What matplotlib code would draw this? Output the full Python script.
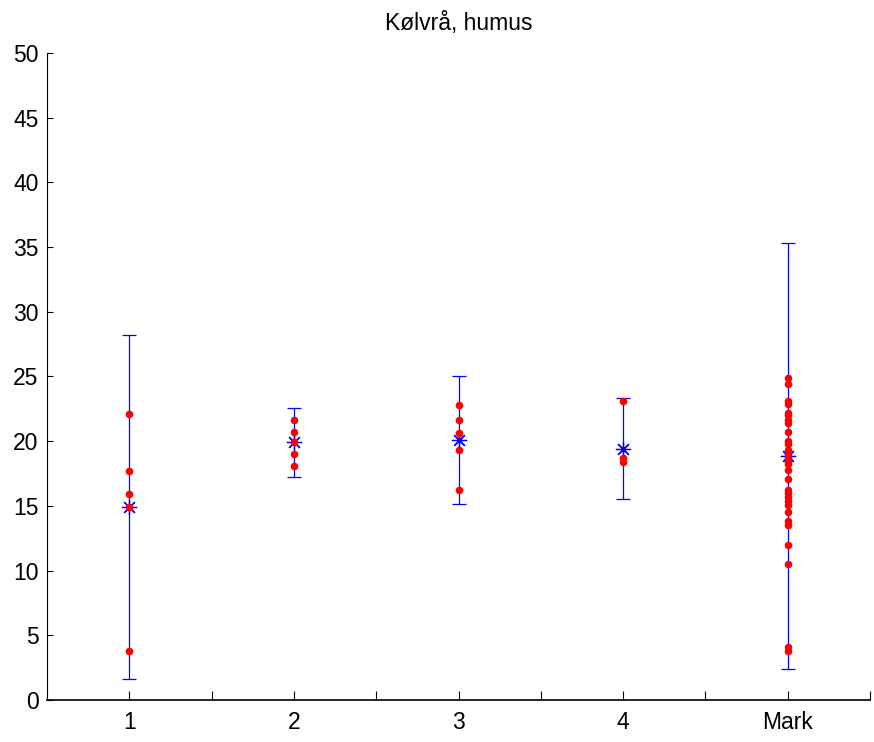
import matplotlib.pyplot as plt

plt.rcParams['font.family'] = ['Liberation Sans', 'DejaVu Sans']

# groups and summary values
groups = ['1', '2', '3', '4', 'Mark']
means = [14.9, 19.9, 20.1, 19.4, 18.85]
errs = [13.3, 2.7, 4.95, 3.9, 16.45]

# individual measurements per group
s1 = [22.1, 17.7, 15.9, 14.9, 3.8]
s2 = [21.6, 20.7, 19.9, 19.0, 18.1]
s3 = [22.8, 21.6, 20.6, 19.3, 16.2]
s4 = [23.1, 18.7, 18.4]
s_mark = [24.9, 24.4, 23.1, 22.9, 22.2, 22.0, 21.6, 21.4, 20.7, 20.0,
          19.8, 19.3, 19.0, 18.7, 18.4, 18.2, 17.8, 17.1, 16.2, 16.0,
          15.7, 15.4, 15.1, 14.5, 13.8, 13.5, 12.0, 10.5, 4.1, 3.8]
samples = [s1, s2, s3, s4, s_mark]

fig = plt.figure(figsize=(8.74, 7.42), dpi=100)
ax = fig.add_axes([0.0538, 0.0566, 0.9416, 0.872])

xs = list(range(1, len(groups) + 1))
ax.errorbar(xs, means, yerr=errs, fmt='none', ecolor='blue', elinewidth=0.9,
            capsize=4.8, capthick=0.9, zorder=2)
ax.plot(xs, means, linestyle='none', marker=(8, 2, 0), color='blue',
        markersize=11, markeredgewidth=0.9, zorder=3)

for x, vals in zip(xs, samples):
    ax.plot([x] * len(vals), vals, 'o', color='red', markersize=5.5,
            markeredgewidth=0, zorder=4)

ax.set_xlim(0.5, 5.5)
ax.set_ylim(0, 50)
ax.set_yticks(range(0, 51, 5))
ax.set_xticks([1, 1.5, 2, 2.5, 3, 3.5, 4, 4.5, 5, 5.5])
ax.set_xticklabels(['1', '', '2', '', '3', '', '4', '', 'Mark', ''])

ax.spines['top'].set_visible(False)
ax.spines['right'].set_visible(False)
ax.spines['left'].set_linewidth(0.8)
ax.spines['bottom'].set_linewidth(1.2)
ax.tick_params(axis='y', direction='in', length=4, width=0.8, labelsize=16.5, pad=6)
ax.tick_params(axis='x', direction='in', length=6.5, width=0.8, labelsize=16.5, pad=8)

ax.set_title('Kølvrå, humus', fontsize=16.5, pad=16.5)

fig.savefig('out.png', dpi=100)
